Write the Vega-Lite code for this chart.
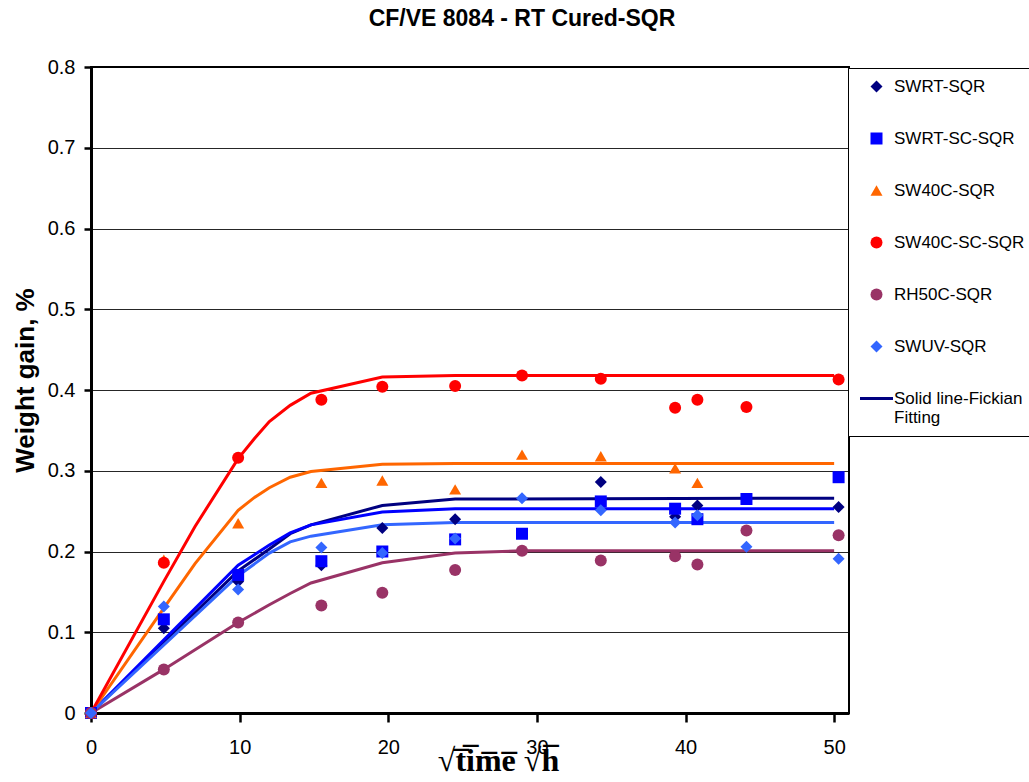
{
  "$schema": "https://vega.github.io/schema/vega-lite/v6.json",
  "autosize": "none",
  "width": 758,
  "height": 646,
  "padding": {"left": 91, "top": 67, "right": 180, "bottom": 69},
  "background": "#ffffff",
  "title": {
    "text": "CF/VE 8084 - RT Cured-SQR",
    "font": "Liberation Sans",
    "fontSize": 23,
    "fontWeight": "bold",
    "color": "#000000",
    "anchor": "middle",
    "frame": "group",
    "dx": 52,
    "baseline": "alphabetic",
    "offset": 8
  },
  "config": {
    "view": {"stroke": "#000000", "strokeWidth": 2},
    "axis": {
      "labelFont": "Liberation Sans",
      "labelFontSize": 20,
      "labelColor": "#000000",
      "labelFlush": false,
      "domainColor": "#000000",
      "domainWidth": 3,
      "tickColor": "#000000",
      "tickWidth": 2.5,
      "titleColor": "#000000"
    }
  },
  "datasets": {
    "measured": [
      {"series": "SWRT-SQR", "x": 0, "y": 0},
      {"series": "SWRT-SQR", "x": 4.9, "y": 0.105},
      {"series": "SWRT-SQR", "x": 9.9, "y": 0.163},
      {"series": "SWRT-SQR", "x": 15.5, "y": 0.183},
      {"series": "SWRT-SQR", "x": 19.6, "y": 0.229},
      {"series": "SWRT-SQR", "x": 24.5, "y": 0.24},
      {"series": "SWRT-SQR", "x": 34.3, "y": 0.286},
      {"series": "SWRT-SQR", "x": 39.3, "y": 0.243},
      {"series": "SWRT-SQR", "x": 40.8, "y": 0.257},
      {"series": "SWRT-SQR", "x": 50.3, "y": 0.255},
      {"series": "SWRT-SC-SQR", "x": 0, "y": 0},
      {"series": "SWRT-SC-SQR", "x": 4.9, "y": 0.116},
      {"series": "SWRT-SC-SQR", "x": 9.9, "y": 0.171},
      {"series": "SWRT-SC-SQR", "x": 15.5, "y": 0.188},
      {"series": "SWRT-SC-SQR", "x": 19.6, "y": 0.2},
      {"series": "SWRT-SC-SQR", "x": 24.5, "y": 0.215},
      {"series": "SWRT-SC-SQR", "x": 29.0, "y": 0.222},
      {"series": "SWRT-SC-SQR", "x": 34.3, "y": 0.262},
      {"series": "SWRT-SC-SQR", "x": 39.3, "y": 0.253},
      {"series": "SWRT-SC-SQR", "x": 40.8, "y": 0.24},
      {"series": "SWRT-SC-SQR", "x": 44.1, "y": 0.265},
      {"series": "SWRT-SC-SQR", "x": 50.3, "y": 0.292},
      {"series": "SW40C-SQR", "x": 0, "y": 0},
      {"series": "SW40C-SQR", "x": 4.9, "y": 0.19},
      {"series": "SW40C-SQR", "x": 9.9, "y": 0.235},
      {"series": "SW40C-SQR", "x": 15.5, "y": 0.285},
      {"series": "SW40C-SQR", "x": 19.6, "y": 0.288},
      {"series": "SW40C-SQR", "x": 24.5, "y": 0.277},
      {"series": "SW40C-SQR", "x": 29.0, "y": 0.32},
      {"series": "SW40C-SQR", "x": 34.3, "y": 0.318},
      {"series": "SW40C-SQR", "x": 39.3, "y": 0.303},
      {"series": "SW40C-SQR", "x": 40.8, "y": 0.285},
      {"series": "SW40C-SC-SQR", "x": 0, "y": 0},
      {"series": "SW40C-SC-SQR", "x": 4.9, "y": 0.186},
      {"series": "SW40C-SC-SQR", "x": 9.9, "y": 0.316},
      {"series": "SW40C-SC-SQR", "x": 15.5, "y": 0.388},
      {"series": "SW40C-SC-SQR", "x": 19.6, "y": 0.404},
      {"series": "SW40C-SC-SQR", "x": 24.5, "y": 0.405},
      {"series": "SW40C-SC-SQR", "x": 29.0, "y": 0.418},
      {"series": "SW40C-SC-SQR", "x": 34.3, "y": 0.414},
      {"series": "SW40C-SC-SQR", "x": 39.3, "y": 0.378},
      {"series": "SW40C-SC-SQR", "x": 40.8, "y": 0.388},
      {"series": "SW40C-SC-SQR", "x": 44.1, "y": 0.379},
      {"series": "SW40C-SC-SQR", "x": 50.3, "y": 0.413},
      {"series": "RH50C-SQR", "x": 0, "y": 0},
      {"series": "RH50C-SQR", "x": 4.9, "y": 0.054},
      {"series": "RH50C-SQR", "x": 9.9, "y": 0.112},
      {"series": "RH50C-SQR", "x": 15.5, "y": 0.133},
      {"series": "RH50C-SQR", "x": 19.6, "y": 0.149},
      {"series": "RH50C-SQR", "x": 24.5, "y": 0.177},
      {"series": "RH50C-SQR", "x": 29.0, "y": 0.201},
      {"series": "RH50C-SQR", "x": 34.3, "y": 0.189},
      {"series": "RH50C-SQR", "x": 39.3, "y": 0.194},
      {"series": "RH50C-SQR", "x": 40.8, "y": 0.184},
      {"series": "RH50C-SQR", "x": 44.1, "y": 0.226},
      {"series": "RH50C-SQR", "x": 50.3, "y": 0.22},
      {"series": "SWUV-SQR", "x": 0, "y": 0},
      {"series": "SWUV-SQR", "x": 4.9, "y": 0.132},
      {"series": "SWUV-SQR", "x": 9.9, "y": 0.153},
      {"series": "SWUV-SQR", "x": 15.5, "y": 0.205},
      {"series": "SWUV-SQR", "x": 19.6, "y": 0.198},
      {"series": "SWUV-SQR", "x": 24.5, "y": 0.216},
      {"series": "SWUV-SQR", "x": 29.0, "y": 0.266},
      {"series": "SWUV-SQR", "x": 34.3, "y": 0.251},
      {"series": "SWUV-SQR", "x": 39.3, "y": 0.236},
      {"series": "SWUV-SQR", "x": 40.8, "y": 0.245},
      {"series": "SWUV-SQR", "x": 44.1, "y": 0.206},
      {"series": "SWUV-SQR", "x": 50.3, "y": 0.191}
    ],
    "fickian": [
      {"series": "SWRT-SQR", "x": 0, "y": 0},
      {"series": "SWRT-SQR", "x": 9.9, "y": 0.176},
      {"series": "SWRT-SQR", "x": 12.0, "y": 0.203},
      {"series": "SWRT-SQR", "x": 13.4, "y": 0.222},
      {"series": "SWRT-SQR", "x": 14.8, "y": 0.233},
      {"series": "SWRT-SQR", "x": 19.6, "y": 0.257},
      {"series": "SWRT-SQR", "x": 24.5, "y": 0.265},
      {"series": "SWRT-SQR", "x": 50, "y": 0.266},
      {"series": "SWRT-SC-SQR", "x": 0, "y": 0},
      {"series": "SWRT-SC-SQR", "x": 9.9, "y": 0.183},
      {"series": "SWRT-SC-SQR", "x": 12.0, "y": 0.208},
      {"series": "SWRT-SC-SQR", "x": 13.4, "y": 0.223},
      {"series": "SWRT-SC-SQR", "x": 14.8, "y": 0.233},
      {"series": "SWRT-SC-SQR", "x": 19.6, "y": 0.249},
      {"series": "SWRT-SC-SQR", "x": 24.5, "y": 0.253},
      {"series": "SWRT-SC-SQR", "x": 50, "y": 0.253},
      {"series": "SW40C-SQR", "x": 0, "y": 0},
      {"series": "SW40C-SQR", "x": 4.9, "y": 0.13},
      {"series": "SW40C-SQR", "x": 7.0, "y": 0.185},
      {"series": "SW40C-SQR", "x": 9.9, "y": 0.251},
      {"series": "SW40C-SQR", "x": 11.0, "y": 0.267},
      {"series": "SW40C-SQR", "x": 12.0, "y": 0.279},
      {"series": "SW40C-SQR", "x": 13.4, "y": 0.292},
      {"series": "SW40C-SQR", "x": 14.8, "y": 0.299},
      {"series": "SW40C-SQR", "x": 19.6, "y": 0.308},
      {"series": "SW40C-SQR", "x": 24.5, "y": 0.309},
      {"series": "SW40C-SQR", "x": 50, "y": 0.309},
      {"series": "SW40C-SC-SQR", "x": 0, "y": 0},
      {"series": "SW40C-SC-SQR", "x": 4.9, "y": 0.163},
      {"series": "SW40C-SC-SQR", "x": 7.0, "y": 0.231},
      {"series": "SW40C-SC-SQR", "x": 9.9, "y": 0.315},
      {"series": "SW40C-SC-SQR", "x": 11.0, "y": 0.34},
      {"series": "SW40C-SC-SQR", "x": 12.0, "y": 0.361},
      {"series": "SW40C-SC-SQR", "x": 13.4, "y": 0.381},
      {"series": "SW40C-SC-SQR", "x": 14.8, "y": 0.396},
      {"series": "SW40C-SC-SQR", "x": 19.6, "y": 0.416},
      {"series": "SW40C-SC-SQR", "x": 24.5, "y": 0.418},
      {"series": "SW40C-SC-SQR", "x": 50, "y": 0.418},
      {"series": "RH50C-SQR", "x": 0, "y": 0},
      {"series": "RH50C-SQR", "x": 4.9, "y": 0.054},
      {"series": "RH50C-SQR", "x": 9.9, "y": 0.112},
      {"series": "RH50C-SQR", "x": 12.0, "y": 0.134},
      {"series": "RH50C-SQR", "x": 13.4, "y": 0.148},
      {"series": "RH50C-SQR", "x": 14.8, "y": 0.161},
      {"series": "RH50C-SQR", "x": 19.6, "y": 0.186},
      {"series": "RH50C-SQR", "x": 24.5, "y": 0.198},
      {"series": "RH50C-SQR", "x": 29.0, "y": 0.201},
      {"series": "RH50C-SQR", "x": 50, "y": 0.201},
      {"series": "SWUV-SQR", "x": 0, "y": 0},
      {"series": "SWUV-SQR", "x": 9.9, "y": 0.17},
      {"series": "SWUV-SQR", "x": 12.0, "y": 0.198},
      {"series": "SWUV-SQR", "x": 13.4, "y": 0.212},
      {"series": "SWUV-SQR", "x": 14.8, "y": 0.219},
      {"series": "SWUV-SQR", "x": 19.6, "y": 0.233},
      {"series": "SWUV-SQR", "x": 24.5, "y": 0.236},
      {"series": "SWUV-SQR", "x": 50, "y": 0.236}
    ]
  },
  "encoding": {
    "x": {
      "field": "x",
      "type": "quantitative",
      "scale": {"domain": [0, 51], "nice": false, "zero": false},
      "axis": {
        "values": [0, 10, 20, 30, 40, 50],
        "grid": false,
        "ticks": true,
        "tickSize": 9,
        "labelPadding": 15,
        "title": "\u221at\u0305i\u0305m\u0305e\u0305 \u221ah\u0305",
        "titleFont": "Liberation Serif",
        "titleFontSize": 32,
        "titleFontWeight": "bold",
        "titleX": 407,
        "titleY": 57,
        "titleAlign": "center",
        "titleBaseline": "alphabetic"
      }
    },
    "y": {
      "field": "y",
      "type": "quantitative",
      "scale": {"domain": [0, 0.8], "nice": false},
      "axis": {
        "values": [0, 0.1, 0.2, 0.3, 0.4, 0.5, 0.6, 0.7, 0.8],
        "format": "~g",
        "grid": true,
        "gridColor": "#000000",
        "gridWidth": 1,
        "gridOpacity": 0.85,
        "ticks": true,
        "tickSize": 7,
        "labelPadding": 9,
        "title": "Weight gain, %",
        "titleFont": "Liberation Sans",
        "titleFontSize": 26,
        "titleFontWeight": "bold",
        "titleAngle": -90,
        "titleX": -58,
        "titleY": 313,
        "titleAlign": "center",
        "titleBaseline": "alphabetic"
      }
    }
  },
  "layer": [
    {
      "data": {"name": "fickian"},
      "mark": {"type": "line", "strokeWidth": 3, "interpolate": "linear"},
      "encoding": {
        "stroke": {
          "field": "series",
          "type": "nominal",
          "scale": {
            "domain": ["SWRT-SQR", "SWRT-SC-SQR", "SW40C-SQR", "SW40C-SC-SQR", "RH50C-SQR", "SWUV-SQR"],
            "range": ["#000080", "#0000ff", "#ff6600", "#ff0000", "#993366", "#3366ff"]
          },
          "legend": null
        }
      }
    },
    {
      "data": {"name": "measured"},
      "mark": {"type": "point", "filled": true, "opacity": 1, "size": 144, "strokeWidth": 0},
      "encoding": {
        "color": {
          "field": "series",
          "type": "nominal",
          "scale": {
            "domain": ["SWRT-SQR", "SWRT-SC-SQR", "SW40C-SQR", "SW40C-SC-SQR", "RH50C-SQR", "SWUV-SQR", "Solid line-Fickian Fitting"],
            "range": ["#000080", "#0000ff", "#ff6600", "#ff0000", "#993366", "#3366ff", "#000080"]
          },
          "legend": {
            "title": null,
            "orient": "none",
            "legendX": 757,
            "legendY": 1
          }
        },
        "shape": {
          "field": "series",
          "type": "nominal",
          "scale": {
            "domain": ["SWRT-SQR", "SWRT-SC-SQR", "SW40C-SQR", "SW40C-SC-SQR", "RH50C-SQR", "SWUV-SQR", "Solid line-Fickian Fitting"],
            "range": ["diamond", "square", "triangle-up", "circle", "circle", "diamond", "M-2.75,-0.25L2.75,-0.25L2.75,0.25L-2.75,0.25Z"]
          },
          "legend": {
            "title": null,
            "orient": "none",
            "legendX": 757,
            "legendY": 1,
            "padding": 10,
            "strokeColor": "#000000",
            "fillColor": "#ffffff",
            "labelFont": "Liberation Sans",
            "labelFontSize": 17,
            "labelColor": "#000000",
            "labelLimit": 400,
            "symbolSize": 144,
            "symbolOffset": 10,
            "labelOffset": 9,
            "rowPadding": 34,
            "labelExpr": "datum.value === 'Solid line-Fickian Fitting' ? ['Solid line-Fickian', 'Fitting'] : datum.label"
          }
        }
      }
    }
  ]
}
